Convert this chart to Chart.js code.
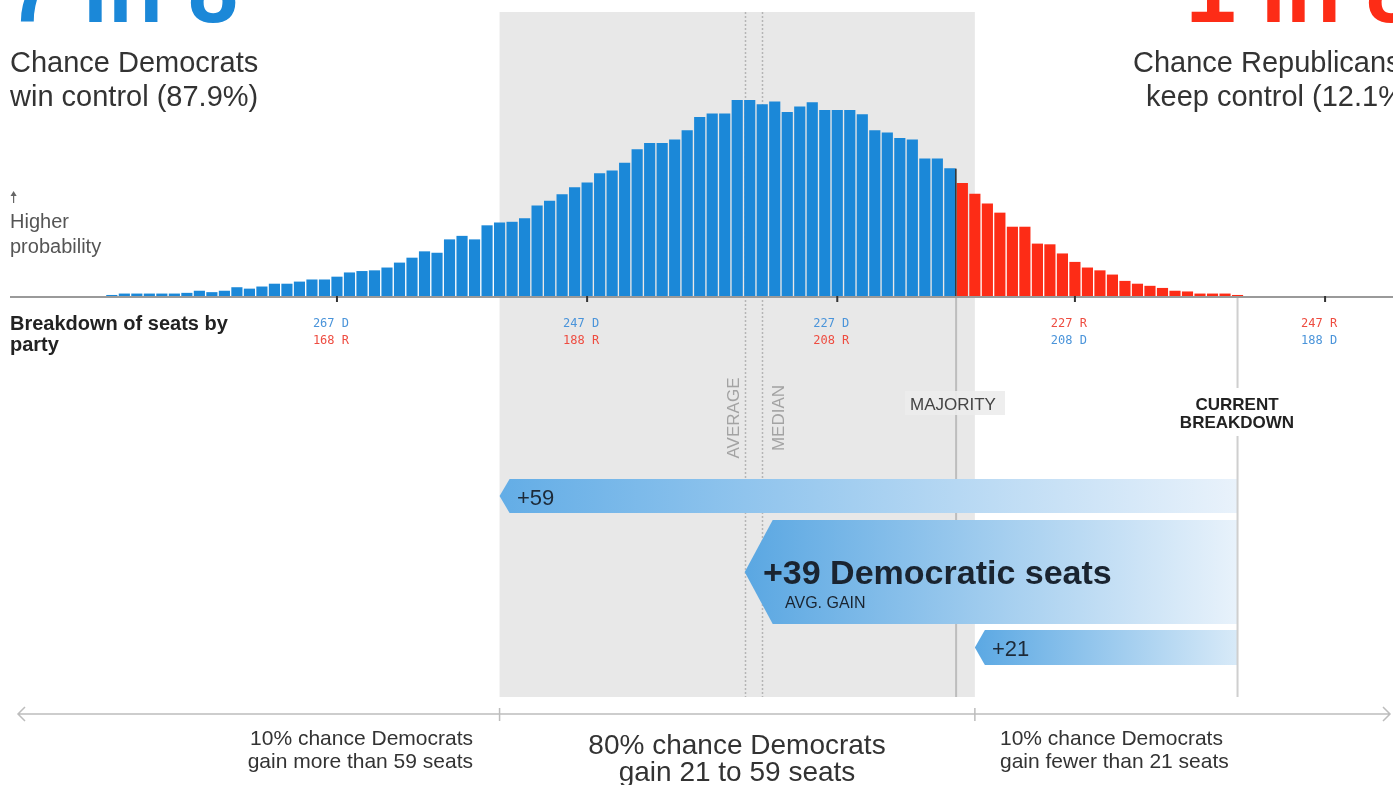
<!DOCTYPE html>
<html>
<head>
<meta charset="utf-8">
<script src="https://cdn.jsdelivr.net/npm/chart.js@4.4.1/dist/chart.umd.min.js"></script>
<style>
  html, body { margin: 0; padding: 0; background: #fff; }
  #wrap { width: 1393px; height: 785px; position: relative; }
</style>
</head>
<body>
<div id="wrap"><canvas id="seatChart"></canvas></div>
<script>
// Democratic seats won, left (more) to right (fewer)
const seats = [
  285, 284, 283, 282, 281, 280, 279, 278, 277, 276,
  275, 274, 273, 272, 271, 270, 269, 268, 267, 266,
  265, 264, 263, 262, 261, 260, 259, 258, 257, 256,
  255, 254, 253, 252, 251, 250, 249, 248, 247, 246,
  245, 244, 243, 242, 241, 240, 239, 238, 237, 236,
  235, 234, 233, 232, 231, 230, 229, 228, 227, 226,
  225, 224, 223, 222, 221, 220, 219, 218, 217, 216,
  215, 214, 213, 212, 211, 210, 209, 208, 207, 206,
  205, 204, 203, 202, 201, 200, 199, 198, 197, 196,
  195
];
// chance of each outcome, in percent
const probs = [
  0.01, 0.03, 0.03, 0.03, 0.03, 0.03, 0.04, 0.07, 0.05, 0.07,
  0.12, 0.10, 0.13, 0.17, 0.17, 0.20, 0.23, 0.23, 0.27, 0.33,
  0.35, 0.36, 0.40, 0.47, 0.54, 0.63, 0.61, 0.80, 0.85, 0.80,
  1.00, 1.04, 1.05, 1.10, 1.28, 1.35, 1.44, 1.54, 1.61, 1.74,
  1.78, 1.89, 2.08, 2.17, 2.17, 2.22, 2.35, 2.54, 2.59, 2.59,
  2.78, 2.78, 2.72, 2.76, 2.61, 2.69, 2.75, 2.64, 2.64, 2.64,
  2.58, 2.35, 2.32, 2.24, 2.22, 1.95, 1.95, 1.81, 1.60, 1.45,
  1.31, 1.18, 0.98, 0.98, 0.74, 0.73, 0.60, 0.48, 0.40, 0.36,
  0.30, 0.21, 0.17, 0.14, 0.11, 0.07, 0.06, 0.03, 0.03, 0.03,
  0.01
];

const majoritySeats = 218;
const currentDem = 195;
const avgGain = 39.4;
const medianGain = 38;
const lowGain = 21;
const highGain = 59;

const tickSeats = [267, 247, 227, 208, 188];
const tickTop = ["267 D", "247 D", "227 D", "227 R", "247 R"];
const tickBottom = ["168 R", "188 R", "208 R", "208 D", "188 D"];

const BLUE = "#1b88d8";
const RED = "#fd2c16";
const SANS = "'Liberation Sans', Arial, sans-serif";
const MONO = "12px 'DejaVu Sans Mono', monospace";

function gainArrow(ctx, tipX, rightX, top, bottom, notch, c0, c1) {
  const mid = (top + bottom) / 2;
  const g = ctx.createLinearGradient(tipX, 0, rightX, 0);
  g.addColorStop(0, c0);
  g.addColorStop(1, c1);
  ctx.fillStyle = g;
  ctx.beginPath();
  ctx.moveTo(tipX, mid);
  ctx.lineTo(tipX + notch, top);
  ctx.lineTo(rightX, top);
  ctx.lineTo(rightX, bottom);
  ctx.lineTo(tipX + notch, bottom);
  ctx.closePath();
  ctx.fill();
}

function text(ctx, str, x, y, font, color, align) {
  ctx.font = font;
  ctx.fillStyle = color;
  ctx.textAlign = align || "left";
  ctx.fillText(str, x, y);
}

// headline in a narrower cut, cropped by the top edge
function headline(ctx, str, x, y, color) {
  ctx.save();
  ctx.translate(x, y);
  ctx.scale(0.9, 1);
  text(ctx, str, 0, 0, "bold 100px " + SANS, color);
  ctx.restore();
}

const decorations = {
  id: "decorations",
  beforeDatasetsDraw(chart) {
    const ctx = chart.ctx;
    const x = chart.scales.x;
    ctx.save();
    const bandL = x.getPixelForValue(currentDem + highGain);
    const bandR = x.getPixelForValue(currentDem + lowGain);
    ctx.fillStyle = "#e8e8e8";
    ctx.fillRect(bandL, 12, bandR - bandL, 685);

    ctx.strokeStyle = "#b5b5b5";
    ctx.lineWidth = 1.5;
    ctx.setLineDash([2, 2]);
    [currentDem + avgGain, currentDem + medianGain].forEach((s) => {
      const px = Math.round(x.getPixelForValue(s)) + 0.5;
      ctx.beginPath();
      ctx.moveTo(px, 12);
      ctx.lineTo(px, 697);
      ctx.stroke();
    });
    ctx.setLineDash([]);
    ctx.restore();
  },
  afterDatasetsDraw(chart) {
    const ctx = chart.ctx;
    const x = chart.scales.x;
    const y = chart.scales.y;
    const base = chart.chartArea.bottom;
    ctx.save();

    ctx.fillStyle = "#9a9a9a";
    ctx.fillRect(10, base, 1383, 2);

    tickSeats.forEach((s, i) => {
      const px = x.getPixelForValue(s);
      ctx.fillStyle = "#333";
      ctx.fillRect(px - 1, base, 2, 6);
      const demFirst = tickTop[i].endsWith("D");
      text(ctx, tickTop[i], px - 6, 327, MONO, demFirst ? "#4a94da" : "#ee4c40", "center");
      text(ctx, tickBottom[i], px - 6, 344, MONO, demFirst ? "#ee4c40" : "#4a94da", "center");
    });

    // majority line
    const majX = x.getPixelForValue(majoritySeats - 0.5);
    const majTop = y.getPixelForValue(probs[seats.indexOf(majoritySeats)]);
    ctx.fillStyle = "#2b2b2b";
    ctx.fillRect(majX - 1, majTop, 1.5, base - majTop);
    ctx.fillStyle = "#bdbdbd";
    ctx.fillRect(majX - 1, base + 2, 2, 697 - base - 2);

    // gain arrows
    const curX = x.getPixelForValue(currentDem);
    gainArrow(ctx, x.getPixelForValue(currentDem + highGain), curX, 479, 513, 10, "#63ade6", "#e9f2fb");
    gainArrow(ctx, x.getPixelForValue(currentDem + avgGain), curX, 520, 624, 28, "#5aa7e2", "#e8f2fb");
    gainArrow(ctx, x.getPixelForValue(currentDem + lowGain), curX, 630, 665, 10, "#5ba8e3", "#d8eaf8");

    // current breakdown line
    ctx.fillStyle = "#cfcfcf";
    ctx.fillRect(curX - 1, base + 2, 2, 388 - base - 2);
    ctx.fillRect(curX - 1, 436, 2, 697 - 436);

    ctx.restore();
  },
  afterDraw(chart) {
    const ctx = chart.ctx;
    const x = chart.scales.x;
    ctx.save();
    ctx.textBaseline = "alphabetic";

    headline(ctx, "7 in 8", 8, 22, BLUE);
    headline(ctx, "1 in 8", 1186, 22, RED);

    text(ctx, "Chance Democrats", 10, 72, "29px " + SANS, "#333");
    text(ctx, "win control (87.9%)", 10, 106, "29px " + SANS, "#333");
    text(ctx, "Chance Republicans", 1133, 72, "29px " + SANS, "#333");
    text(ctx, "keep control (12.1%)", 1146, 106, "29px " + SANS, "#333");

    // y hint
    ctx.fillStyle = "#666";
    ctx.fillRect(13, 193, 1.2, 10);
    ctx.beginPath();
    ctx.moveTo(10.5, 196);
    ctx.lineTo(13.6, 191);
    ctx.lineTo(16.7, 196);
    ctx.closePath();
    ctx.fill();
    text(ctx, "Higher", 10, 228, "20px " + SANS, "#555");
    text(ctx, "probability", 10, 253, "20px " + SANS, "#555");

    text(ctx, "Breakdown of seats by", 10, 330, "bold 20px " + SANS, "#222");
    text(ctx, "party", 10, 351, "bold 20px " + SANS, "#222");

    // line labels
    ctx.save();
    ctx.translate(739, 418);
    ctx.rotate(-Math.PI / 2);
    text(ctx, "AVERAGE", 0, 0, "17px " + SANS, "#a3a3a3", "center");
    ctx.restore();
    ctx.save();
    ctx.translate(784, 418);
    ctx.rotate(-Math.PI / 2);
    text(ctx, "MEDIAN", 0, 0, "17px " + SANS, "#a3a3a3", "center");
    ctx.restore();

    ctx.fillStyle = "rgba(236,236,236,0.9)";
    ctx.fillRect(905, 391, 100, 24);
    text(ctx, "MAJORITY", 910, 410, "17px " + SANS, "#444");

    text(ctx, "CURRENT", 1237, 410, "bold 17px " + SANS, "#222", "center");
    text(ctx, "BREAKDOWN", 1237, 428, "bold 17px " + SANS, "#222", "center");

    // arrow labels
    text(ctx, "+59", 517, 505, "22px " + SANS, "#1d2a38");
    text(ctx, "+39 Democratic seats", 763, 584, "bold 34px " + SANS, "#1a2430");
    text(ctx, "AVG. GAIN", 785, 608, "16px " + SANS, "#1a2430");
    text(ctx, "+21", 992, 656, "22px " + SANS, "#1d2a38");

    // bottom range axis
    const bandL = x.getPixelForValue(currentDem + highGain);
    const bandR = x.getPixelForValue(currentDem + lowGain);
    ctx.strokeStyle = "#bdbdbd";
    ctx.lineWidth = 1.5;
    ctx.beginPath();
    ctx.moveTo(18, 714);
    ctx.lineTo(1390, 714);
    ctx.moveTo(25, 707);
    ctx.lineTo(18, 714);
    ctx.lineTo(25, 721);
    ctx.moveTo(1383, 707);
    ctx.lineTo(1390, 714);
    ctx.lineTo(1383, 721);
    ctx.moveTo(bandL, 708);
    ctx.lineTo(bandL, 721);
    ctx.moveTo(bandR, 708);
    ctx.lineTo(bandR, 721);
    ctx.stroke();

    text(ctx, "10% chance Democrats", 473, 745, "21px " + SANS, "#333", "right");
    text(ctx, "gain more than 59 seats", 473, 768, "21px " + SANS, "#333", "right");
    text(ctx, "80% chance Democrats", 737, 754, "28px " + SANS, "#333", "center");
    text(ctx, "gain 21 to 59 seats", 737, 781, "28px " + SANS, "#333", "center");
    text(ctx, "10% chance Democrats", 1000, 745, "21px " + SANS, "#333", "left");
    text(ctx, "gain fewer than 21 seats", 1000, 768, "21px " + SANS, "#333", "left");

    ctx.restore();
  }
};

const chart = new Chart(document.getElementById("seatChart"), {
  type: "bar",
  data: {
    datasets: [
      {
        label: "Chance of outcome",
        data: seats.map((s, i) => ({ x: s, y: probs[i] })),
        backgroundColor: seats.map((s) => (s >= majoritySeats ? BLUE : RED)),
        barThickness: 10.5,
        borderWidth: 0,
      },
    ],
  },
  options: {
    responsive: true,
    maintainAspectRatio: false,
    animation: false,
    layout: { padding: { top: 99, bottom: 489, left: 0, right: 0 } },
    plugins: { legend: { display: false }, tooltip: { enabled: false } },
    scales: {
      x: {
        type: "linear",
        reverse: true,
        min: 182.57,
        max: 293.94,
        offset: false,
        display: false,
      },
      y: { min: 0, max: 2.8, display: false },
    },
  },
  plugins: [decorations],
});
</script>
</body>
</html>
